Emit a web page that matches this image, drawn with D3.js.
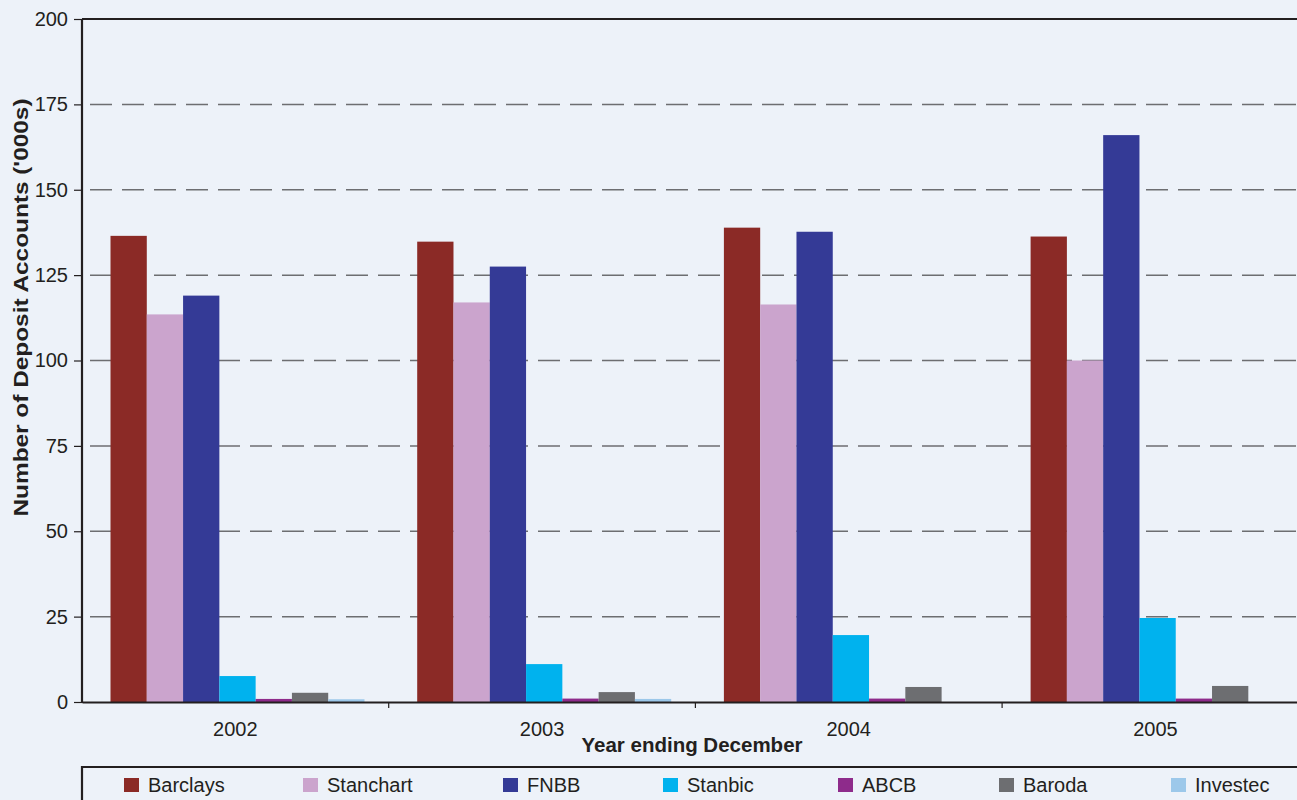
<!DOCTYPE html>
<html><head><meta charset="utf-8">
<script src="https://cdn.jsdelivr.net/npm/d3@7"></script>
<style>
html,body{margin:0;padding:0;background:#EDF2F9;}
svg{display:block;font-family:"Liberation Sans",Arial,sans-serif;}
</style></head>
<body>
<svg id="c" width="1297" height="800"></svg>
<script>
const years = ["2002","2003","2004","2005"];
const banks = ["Barclays","Stanchart","FNBB","Stanbic","ABCB","Baroda","Investec"];
const colors = ["#8B2A26","#CBA4CD","#343A96","#00B2EE","#8E2B8B","#6D6E71","#9CC8EA"];
const barclays  = [136.5, 134.8, 138.9, 136.3];
const stanchart = [113.5, 117.0, 116.4, 100.0];
const fnbb      = [119.0, 127.5, 137.7, 166.0];
const stanbic   = [7.6, 11.1, 19.6, 24.6];
const abcb      = [0.9, 1.0, 1.0, 1.0];
const baroda    = [2.7, 2.9, 4.4, 4.7];
const investec  = [0.8, 0.9, 0, 0];
const yTicks = [0,25,50,75,100,125,150,175,200];
const seriesValues = [barclays, stanchart, fnbb, stanbic, abcb, baroda, investec];

const svg = d3.select("#c");
const L = 82, T = 19, B = 702, R = 82 + 4*306.7;
const x = d3.scaleBand().domain(years).range([L, R]).padding(0);
const xi = d3.scaleBand().domain(banks).range([28.5, 282.5]).padding(0);
const y = d3.scaleLinear().domain([0,200]).range([B, T]);
const ink = "#231F20";

// gridlines
svg.append("g").selectAll("line").data(yTicks.filter(d=>d>0 && d<200)).join("line")
  .attr("x1", L).attr("x2", R).attr("y1", d=>y(d)).attr("y2", d=>y(d))
  .attr("stroke", "#6D6E71").attr("stroke-width", 1.5).attr("stroke-dasharray", "22,10")
  .attr("stroke-dashoffset", -8);

// bars
const data = [];
years.forEach((yr,i)=>banks.forEach((b,j)=>data.push({yr, b, v: seriesValues[j][i], c: colors[j]})));
svg.append("g").selectAll("rect").data(data).join("rect")
  .attr("x", d=>x(d.yr)+xi(d.b)).attr("width", xi.bandwidth())
  .attr("y", d=>y(d.v)).attr("height", d=>B - y(d.v))
  .attr("fill", d=>d.c);

// y axis
const ya = svg.append("g").attr("transform", `translate(${L},0)`)
  .call(d3.axisLeft(y).tickValues(yTicks).tickSize(8).tickPadding(6));
ya.select(".domain").remove();
ya.selectAll(".tick line").attr("stroke", ink).attr("stroke-width", 1.2);
ya.selectAll(".tick text").attr("fill", ink).attr("font-size", 20).attr("font-family","Liberation Sans, Arial, sans-serif");

// frame
svg.append("line").attr("x1", L).attr("x2", L).attr("y1", T).attr("y2", B+1).attr("stroke", ink).attr("stroke-width", 2.2);
svg.append("line").attr("x1", L).attr("x2", R).attr("y1", T).attr("y2", T).attr("stroke", ink).attr("stroke-width", 2.2);

// x axis
const xa = svg.append("g").attr("transform", `translate(0,${B})`)
  .call(d3.axisBottom(x).tickSize(0));
xa.select(".domain").attr("stroke", ink).attr("stroke-width", 2.2);
xa.selectAll(".tick text").attr("fill", ink).attr("font-size", 20)
  .attr("font-family","Liberation Sans, Arial, sans-serif").attr("y", 34).attr("dy", 0);
// category separators
svg.append("g").selectAll("line").data(years.slice(1)).join("line")
  .attr("x1", d=>x(d)).attr("x2", d=>x(d)).attr("y1", B).attr("y2", B+6)
  .attr("stroke", ink).attr("stroke-width", 1.2);

// axis titles
svg.append("text").attr("x", 692).attr("y", 752).attr("text-anchor","middle")
  .attr("font-size", 20.5).attr("font-weight","bold").attr("fill", ink).text("Year ending December");
svg.append("text").attr("transform", `translate(28,${307.5}) rotate(-90) scale(1.19,1)`).attr("text-anchor","middle")
  .attr("font-size", 20.5).attr("font-weight","bold").attr("fill", ink)
  .text("Number of Deposit Accounts ('000s)");

// legend
svg.append("path").attr("d", `M${L},800 V767 H1300`).attr("fill","none").attr("stroke", ink).attr("stroke-width", 2.2);
const legX = [124, 303, 503, 663, 838, 999, 1171];
const lg = svg.append("g").selectAll("g").data(banks).join("g")
  .attr("transform", (d,i)=>`translate(${legX[i]},778)`);
lg.append("rect").attr("width", 15).attr("height", 14).attr("fill", (d,i)=>colors[i]);
lg.append("text").attr("x", 24).attr("y", 14).attr("font-size", 20).attr("fill", ink).text(d=>d);
</script>
</body></html>
